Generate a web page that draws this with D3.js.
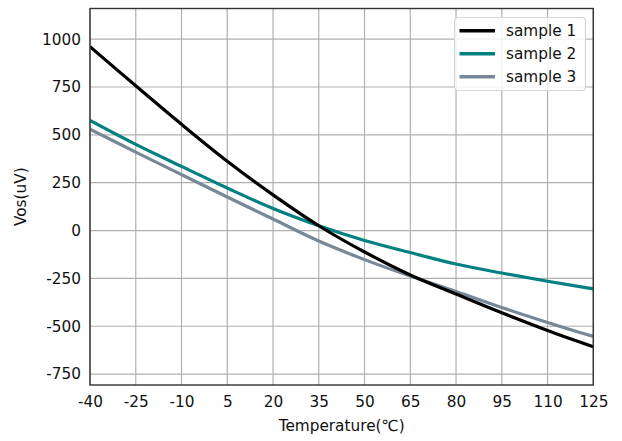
<!DOCTYPE html>
<html>
<head>
<meta charset="utf-8">
<script src="https://cdn.jsdelivr.net/npm/d3@7"></script>
<style>
html, body { margin: 0; padding: 0; background: #fff; }
svg { display: block; font-family: "DejaVu Sans", sans-serif; }
</style>
</head>
<body>
<svg id="chart" width="622" height="441"></svg>
<script>
const temps = [-40, -25, -10, 5, 20, 35, 50, 65, 80, 95, 110, 125];
const sample1 = [961, 756, 555, 362, 186, 25, -112, -232, -332, -430, -522, -607];
const sample2 = [575, 450, 335, 222, 115, 25, -52, -115, -175, -222, -265, -305];
const sample3 = [530, 410, 292, 175, 60, -55, -152, -238, -318, -402, -480, -553];
const seriesNames = ["sample 1", "sample 2", "sample 3"];
const seriesColors = ["#000000", "#008080", "#778899"];
const xTicks = [-40, -25, -10, 5, 20, 35, 50, 65, 80, 95, 110, 125];
const yTicks = [-750, -500, -250, 0, 250, 500, 750, 1000];
const xLabel = "Temperature(℃)";
const yLabel = "Vos(uV)";

const svg = d3.select("#chart");
const pL = 90, pR = 593.3, pT = 8.5, pB = 385;
const x = d3.scaleLinear().domain([-40, 125]).range([pL, pR]);
const y = d3.scaleLinear().domain([-807, 1160]).range([pB, pT]);
const fmt = d => String(d);

// grid
const grid = svg.append("g");
grid.selectAll("line.vx").data(xTicks).enter().append("line")
  .attr("x1", d => x(d)).attr("x2", d => x(d))
  .attr("y1", pT).attr("y2", pB)
  .attr("stroke", "#b0b0b0").attr("stroke-width", 1.2);
grid.selectAll("line.hy").data(yTicks).enter().append("line")
  .attr("x1", pL).attr("x2", pR)
  .attr("y1", d => y(d)).attr("y2", d => y(d))
  .attr("stroke", "#b0b0b0").attr("stroke-width", 1.2);

// lines
const allSeries = [sample1, sample2, sample3];
const line = d3.line().x(d => x(d[0])).y(d => y(d[1])).curve(d3.curveCatmullRom.alpha(0.5));
svg.append("clipPath").attr("id", "clip").append("rect")
  .attr("x", pL).attr("y", pT).attr("width", pR - pL).attr("height", pB - pT);
const linesG = svg.append("g").attr("clip-path", "url(#clip)");
[2, 1, 0].forEach(i => {
  linesG.append("path")
    .datum(temps.map((t, j) => [t, allSeries[i][j]]))
    .attr("d", line)
    .attr("fill", "none")
    .attr("stroke", seriesColors[i])
    .attr("stroke-width", 3.2)
    .attr("stroke-linejoin", "round");
});

// axes
const xAxis = d3.axisBottom(x).tickValues(xTicks).tickSize(0).tickPadding(11).tickFormat(fmt);
const yAxis = d3.axisLeft(y).tickValues(yTicks).tickSize(0).tickPadding(9).tickFormat(fmt);
const gx = svg.append("g").attr("transform", `translate(0,${pB})`).call(xAxis);
const gy = svg.append("g").attr("transform", `translate(${pL},0)`).call(yAxis);
[gx, gy].forEach(g => {
  g.select(".domain").remove();
  g.selectAll("text").attr("font-size", "15.3px").attr("fill", "#111").attr("font-family", "DejaVu Sans");
});
gx.selectAll("text").attr("dy", "0.71em");

// frame
svg.append("rect").attr("x", pL).attr("y", pT)
  .attr("width", pR - pL).attr("height", pB - pT)
  .attr("fill", "none").attr("stroke", "#333").attr("stroke-width", 1.4);

// axis labels
svg.append("text").attr("x", (pL + pR) / 2).attr("y", 431)
  .attr("text-anchor", "middle").attr("font-size", "15.3px").attr("fill", "#111")
  .text(xLabel);
svg.append("text")
  .attr("transform", `translate(26,${(pT + pB) / 2}) rotate(-90)`)
  .attr("text-anchor", "middle").attr("font-size", "15.3px").attr("fill", "#111")
  .text(yLabel);

// legend
const lg = svg.append("g");
lg.append("rect").attr("x", 454.5).attr("y", 17.5).attr("width", 131).attr("height", 73)
  .attr("rx", 3.5).attr("fill", "rgba(255,255,255,0.82)").attr("stroke", "#d6d6d6").attr("stroke-width", 1.2);
seriesNames.forEach((name, i) => {
  const yy = 30.8 + i * 23;
  lg.append("line").attr("x1", 459.5).attr("x2", 495).attr("y1", yy).attr("y2", yy)
    .attr("stroke", seriesColors[i]).attr("stroke-width", 3.4);
  lg.append("text").attr("x", 506).attr("y", yy).attr("dy", "0.36em")
    .attr("font-size", "15.3px").attr("fill", "#111").text(name);
});
</script>
</body>
</html>
